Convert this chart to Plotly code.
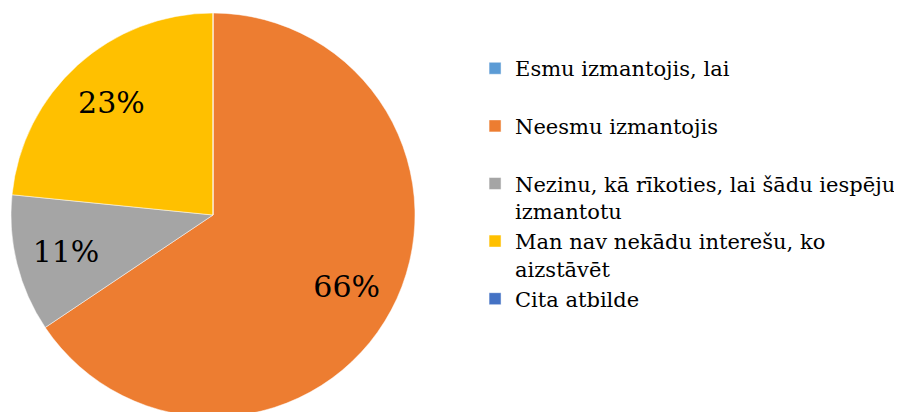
import plotly.graph_objects as go

# legend text; single-line entries get a blank second line so spacing matches the original
categories = [
    "Esmu izmantojis, lai<br>\u00a0",
    "Neesmu izmantojis<br>\u00a0",
    "Nezinu, kā rīkoties, lai šādu iespēju<br>izmantotu",
    "Man nav nekādu interešu, ko<br>aizstāvēt",
    "Cita atbilde",
]
values = [0, 65.6, 11.0, 23.4, 0]
colors = ["#5B9BD5", "#ED7D31", "#A5A5A5", "#FFC000", "#4472C4"]
text_templates = ["", "%{percent:.0%}", "%{percent:.0%}", "%{percent:.0%}", ""]

SERIF = "DejaVu Serif"
dom = dict(x=[3 / 902, 407 / 902], y=[0, 1])

fig = go.Figure()
# coloured pie (no labels)
fig.add_trace(
    go.Pie(
        labels=categories,
        values=values,
        sort=False,
        direction="clockwise",
        rotation=0,
        marker=dict(colors=colors, line=dict(color="white", width=0.5)),
        textinfo="none",
        hoverinfo="label+percent",
        domain=dom,
    )
)
# transparent ring overlay that carries the percentage labels at ~0.75 radius
fig.add_trace(
    go.Pie(
        labels=categories,
        values=values,
        sort=False,
        direction="clockwise",
        rotation=0,
        hole=0.5,
        marker=dict(colors=["rgba(0,0,0,0)"] * len(values), line=dict(width=0)),
        texttemplate=text_templates,
        textposition="inside",
        insidetextorientation="horizontal",
        textfont=dict(family=SERIF, size=30, color="black"),
        hoverinfo="skip",
        showlegend=False,
        domain=dom,
    )
)

fig.update_layout(
    width=902,
    height=412,
    margin=dict(l=0, r=0, t=2, b=0),
    font=dict(family=SERIF, color="black"),
    paper_bgcolor="white",
    plot_bgcolor="white",
    showlegend=True,
    legend=dict(
        x=0.5178,
        xanchor="left",
        y=0.907,
        yanchor="top",
        valign="top",
        font=dict(family=SERIF, size=21, color="black"),
        tracegroupgap=0,
        itemclick=False,
    ),
)

fig.write_html("out.html")
